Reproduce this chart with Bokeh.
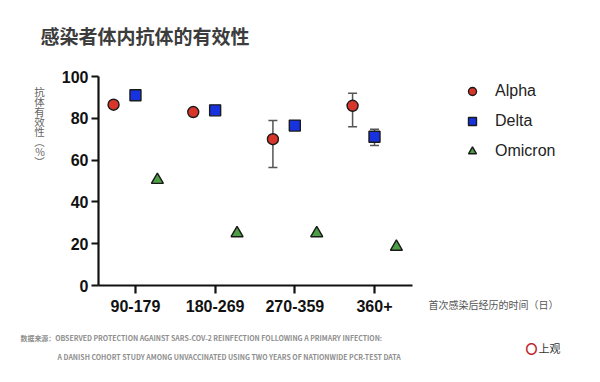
import math
from bokeh.plotting import figure
from bokeh.models import (ColumnDataSource, Range1d, FixedTicker, Legend,
                          LegendItem, Whisker, TeeHead, Title)
from bokeh.embed import file_html
from bokeh.resources import INLINE

# ---- data ----
categories = ["90-179", "180-269", "270-359", "360+"]
alpha = [86.5, 83.0, 70.0, 86.0]
alpha_low = [85.5, 82.0, 56.5, 76.0]
alpha_high = [87.5, 84.0, 79.0, 92.0]
delta = [91.0, 83.8, 76.5, 71.2]
delta_low = [90.0, 83.0, 75.5, 67.0]
delta_high = [92.0, 84.6, 77.5, 74.8]
omicron = [50.5, 25.0, 25.0, 18.5]
yticks = [0, 20, 40, 60, 80, 100]
offsets = {"Alpha": -0.275, "Delta": 0.0, "Omicron": 0.275}

idx = list(range(len(categories)))

def xs(name):
    return [i + offsets[name] for i in idx]

src_a = ColumnDataSource(dict(x=xs("Alpha"), y=alpha, lo=alpha_low, hi=alpha_high))
src_d = ColumnDataSource(dict(x=xs("Delta"), y=delta, lo=delta_low, hi=delta_high))
src_o = ColumnDataSource(dict(x=xs("Omicron"), y=omicron))

p = figure(frame_width=314, frame_height=209, output_backend="svg", toolbar_location=None,
           x_range=Range1d(-0.464, 3.477), y_range=Range1d(0, 100),
           min_border_left=98, min_border_right=172, min_border_top=76,
           min_border_bottom=81)
p.outline_line_color = None
p.xgrid.visible = False
p.ygrid.visible = False

for ax in (p.xaxis[0], p.yaxis[0]):
    ax.axis_line_width = 2.2
    ax.axis_line_color = "#111111"
    ax.major_tick_line_width = 2.2
    ax.major_tick_line_color = "#111111"
    ax.major_tick_in = 0
    ax.minor_tick_line_color = None
    ax.major_label_text_font = "Liberation Sans"
    ax.major_label_text_font_style = "bold"
    ax.major_label_text_font_size = "16px"
    ax.major_label_text_color = "#111111"

p.yaxis[0].ticker = FixedTicker(ticks=yticks)
p.yaxis[0].major_tick_out = 7
p.yaxis[0].major_label_standoff = 3
p.yaxis[0].axis_label = "抗\n体\n有\n效\n性\n︵\n%\n︶" + "\n " * 11
p.yaxis[0].axis_label_orientation = "horizontal"
p.yaxis[0].axis_label_text_font = "Noto Sans CJK SC"
p.yaxis[0].axis_label_text_font_size = "10.5px"
p.yaxis[0].axis_label_text_font_style = "normal"
p.yaxis[0].axis_label_text_color = "#666666"
p.yaxis[0].axis_label_text_line_height = 0.66
p.yaxis[0].axis_label_standoff = 14

p.xaxis[0].ticker = FixedTicker(ticks=idx)
p.xaxis[0].major_label_overrides = {i: c for i, c in zip(idx, categories)}
p.xaxis[0].major_tick_out = 8
p.xaxis[0].major_label_standoff = 6

for src in (src_a, src_d):
    w = Whisker(source=src, base="x", lower="lo", upper="hi", dimension="height",
                line_color="#555555", line_width=1.5,
                upper_head=TeeHead(size=9, line_color="#555555", line_width=1.5),
                lower_head=TeeHead(size=9, line_color="#555555", line_width=1.5),
                level="underlay")
    p.add_layout(w)

ra = p.scatter("x", "y", source=src_a, marker="circle", size=11,
               fill_color="#d8352b", line_color="#1a1a1a", line_width=1.4)
rd = p.scatter("x", "y", source=src_d, marker="square", size=11,
               fill_color="#1733e0", line_color="#1a1a1a", line_width=1.4)
ro = p.scatter("x", "y", source=src_o, marker="triangle", size=12,
               fill_color="#4c9e44", line_color="#1a1a1a", line_width=1.4)

legend = Legend(items=[LegendItem(label="Alpha", renderers=[ra]),
                       LegendItem(label="Delta", renderers=[rd]),
                       LegendItem(label="Omicron", renderers=[ro])],
                location=(50, 124.5), orientation="vertical",
                glyph_width=20, glyph_height=20, label_height=20, spacing=10,
                padding=0, margin=0, border_line_color=None,
                background_fill_alpha=0, label_standoff=13,
                label_text_font="Liberation Sans", label_text_font_size="16px",
                label_text_color="#222222")
p.add_layout(legend, "right")

def title(text, panel, offset, standoff, size, color, font="Noto Sans CJK SC",
          style="normal", valign="bottom"):
    p.add_layout(Title(text=text, align="left", offset=offset, standoff=standoff,
                       vertical_align=valign,
                       text_font=font, text_font_size=size,
                       text_font_style=style, text_color=color), panel)

# above: spacer (closest to the frame), then the chart title
title(" ", "above", 0, 25, "1px", "#ffffff")
title("感染者体内抗体的有效性", "above", -58, 0, "19px", "#3c3c3c", style="bold")

# below: after the x axis
title("首次感染后经历的时间（日）", "below", 330, -36, "10px", "#555555", valign="top")
title("数据来源：OBSERVED PROTECTION AGAINST SARS-COV-2 REINFECTION FOLLOWING A PRIMARY INFECTION:",
      "below", -78, 32.6, "6.95px", "#8e8e8e", style="bold")
title("A DANISH COHORT STUDY AMONG UNVACCINATED USING TWO YEARS OF NATIONWIDE PCR-TEST DATA",
      "below", -41, -16, "6.95px", "#8e8e8e", style="bold", valign="top")
title("〇", "below", 427, -39, "12px", "#c0282d", style="bold", valign="top")
title("上观", "below", 440, -39.4, "11px", "#333333", valign="top")

open("out.html", "w").write(file_html(p, INLINE))
